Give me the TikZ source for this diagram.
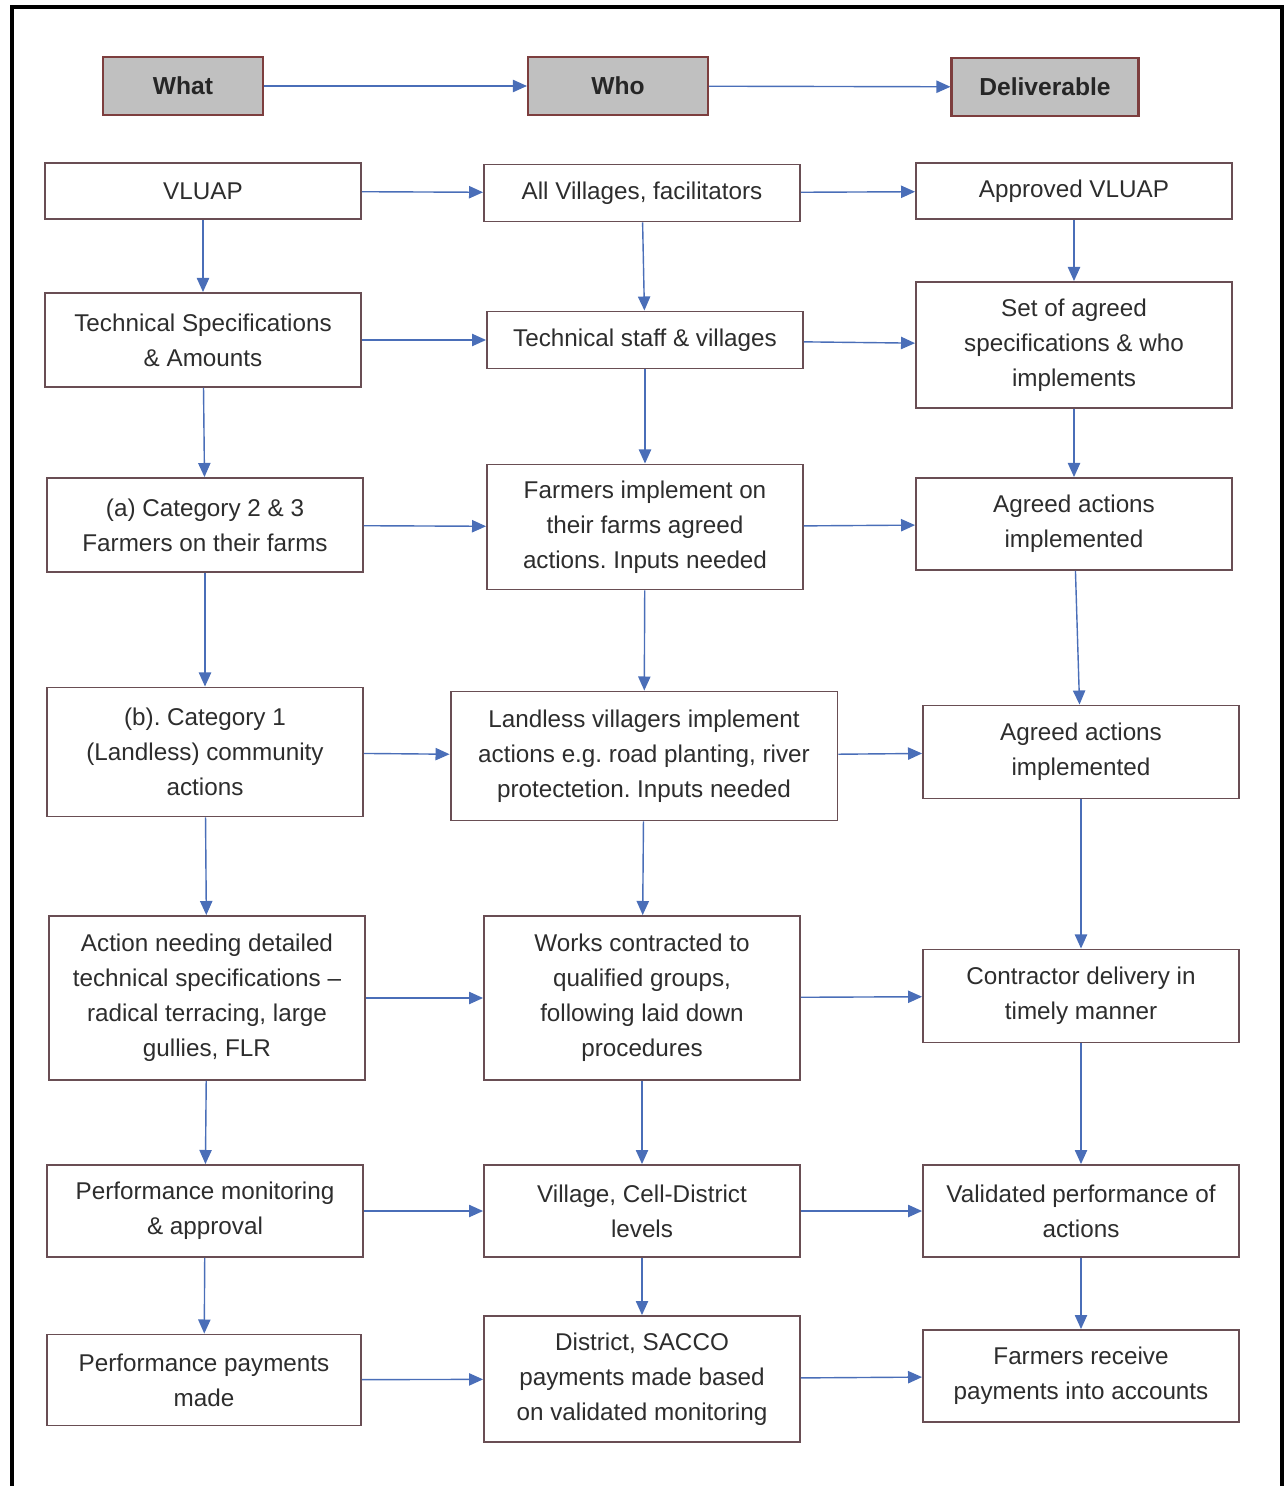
\documentclass[tikz,border=0pt]{standalone}
\usepackage{fontspec}
\setmainfont{Liberation Sans}
\usepackage{tikz}
\usetikzlibrary{positioning, arrows.meta}
\frenchspacing

\definecolor{boxline}{RGB}{105,78,84}
\definecolor{headline}{RGB}{125,62,62}
\definecolor{headfill}{RGB}{192,192,192}
\definecolor{arrowblue}{RGB}{74,110,184}
\definecolor{boxtext}{RGB}{45,45,45}

\begin{document}
\begin{tikzpicture}[
    x=0.02cm, y=-0.02cm,
    header/.style={draw=headline, line width=1.2pt, fill=headfill, rectangle, minimum height=1.16cm, inner sep=0pt, align=center, text=black!85, font=\fontsize{14}{17}\selectfont\bfseries},
    actbox/.style={draw=boxline, line width=1.1pt, fill=white, rectangle, minimum width=6.32cm, minimum height=1.13cm, inner sep=0pt, align=center, text=boxtext, font=\fontsize{13.8}{19.9}\selectfont},
    flow/.style={draw=arrowblue, line width=0.8pt, -{Triangle[length=8pt, width=7pt]}}
]
    \useasboundingbox (0,0) rectangle (1287,1486);

    % --- Frame ---
    \draw[line width=1.8pt] (12,1486) -- (12,7) -- (1282,7) -- (1282,1486);

    % --- Headers ---
    \node[header, minimum width=3.2cm] (what) at (183,86) {What};
    \node[header, minimum width=3.6cm] (who) at (618,86) {Who};
    \node[header, minimum width=3.74cm] (deliv) at (1045,87) {Deliverable};

    \draw[flow] (what) -- (who);
    \draw[flow] (who) -- (deliv);

    % --- What column ---
    \node[actbox] (vluap) at (203,191) {VLUAP};
    \node[actbox, minimum height=1.88cm] (techspec) at (203,340) {Technical Specifications\\\& Amounts};
    \node[actbox, minimum height=1.88cm] (cattwo) at (205,525) {(a) Category 2 \& 3\\Farmers on their farms};
    \node[actbox, minimum height=2.58cm] (catone) at (205,752) {(b). Category 1\\(Landless) community\\actions};
    \node[actbox, minimum height=3.28cm] (detail) at (207,998) {Action needing detailed\\technical specifications --\\radical terracing, large\\gullies, FLR};
    \node[actbox, minimum height=1.84cm] (perfmon) at (205,1211) {Performance monitoring\\\& approval};
    \node[actbox, minimum height=1.82cm, minimum width=6.28cm] (perfpay) at (204,1380) {Performance payments\\made};

    % --- Who column ---
    \node[actbox, minimum height=1.14cm] (villages) at (642,193) {All Villages, facilitators};
    \node[actbox, minimum height=1.14cm] (techstaff) at (645,340) {Technical staff \& villages};
    \node[actbox, minimum height=2.5cm] (farmimpl) at (645,527) {Farmers implement on\\their farms agreed\\actions. Inputs needed};
    \node[actbox, minimum height=2.58cm, minimum width=7.74cm] (landless) at (644,756) {Landless villagers implement\\actions e.g. road planting, river\\protectetion. Inputs needed};
    \node[actbox, minimum height=3.28cm] (works) at (642,998) {Works contracted to\\qualified groups,\\following laid down\\procedures};
    \node[actbox, minimum height=1.84cm] (levels) at (642,1211) {Village, Cell-District\\levels};
    \node[actbox, minimum height=2.52cm] (sacco) at (642,1379) {District, SACCO\\payments made based\\on validated monitoring};

    % --- Deliverable column ---
    \node[actbox] (approved) at (1074,191) {Approved VLUAP};
    \node[actbox, minimum height=2.52cm] (agreedspec) at (1074,345) {Set of agreed\\specifications \& who\\implements};
    \node[actbox, minimum height=1.84cm] (agreedone) at (1074,524) {Agreed actions\\implemented};
    \node[actbox, minimum height=1.86cm] (agreedtwo) at (1081,752) {Agreed actions\\implemented};
    \node[actbox, minimum height=1.86cm] (contractor) at (1081,996) {Contractor delivery in\\timely manner};
    \node[actbox, minimum height=1.84cm] (validated) at (1081,1211) {Validated performance of\\actions};
    \node[actbox, minimum height=1.84cm] (receive) at (1081,1376) {Farmers receive\\payments into accounts};

    % --- Vertical flow ---
    \draw[flow] (vluap) -- (techspec);
    \draw[flow] (techspec) -- (cattwo);
    \draw[flow] (cattwo) -- (catone);
    \draw[flow] (catone) -- (detail);
    \draw[flow] (detail) -- (perfmon);
    \draw[flow] (perfmon) -- (perfpay);

    \draw[flow] (villages) -- (techstaff);
    \draw[flow] (techstaff) -- (farmimpl);
    \draw[flow] (farmimpl) -- (landless);
    \draw[flow] (landless) -- (works);
    \draw[flow] (works) -- (levels);
    \draw[flow] (levels) -- (sacco);

    \draw[flow] (approved) -- (agreedspec);
    \draw[flow] (agreedspec) -- (agreedone);
    \draw[flow] (agreedone) -- (agreedtwo);
    \draw[flow] (agreedtwo) -- (contractor);
    \draw[flow] (contractor) -- (validated);
    \draw[flow] (validated) -- (receive);

    % --- Horizontal flow ---
    \draw[flow] (vluap) -- (villages);
    \draw[flow] (villages) -- (approved);
    \draw[flow] (techspec) -- (techstaff);
    \draw[flow] (techstaff) -- (agreedspec);
    \draw[flow] (cattwo) -- (farmimpl);
    \draw[flow] (farmimpl) -- (agreedone);
    \draw[flow] (catone) -- (landless);
    \draw[flow] (landless) -- (agreedtwo);
    \draw[flow] (detail) -- (works);
    \draw[flow] (works) -- (contractor);
    \draw[flow] (perfmon) -- (levels);
    \draw[flow] (levels) -- (validated);
    \draw[flow] (perfpay) -- (sacco);
    \draw[flow] (sacco) -- (receive);

\end{tikzpicture}
\end{document}
